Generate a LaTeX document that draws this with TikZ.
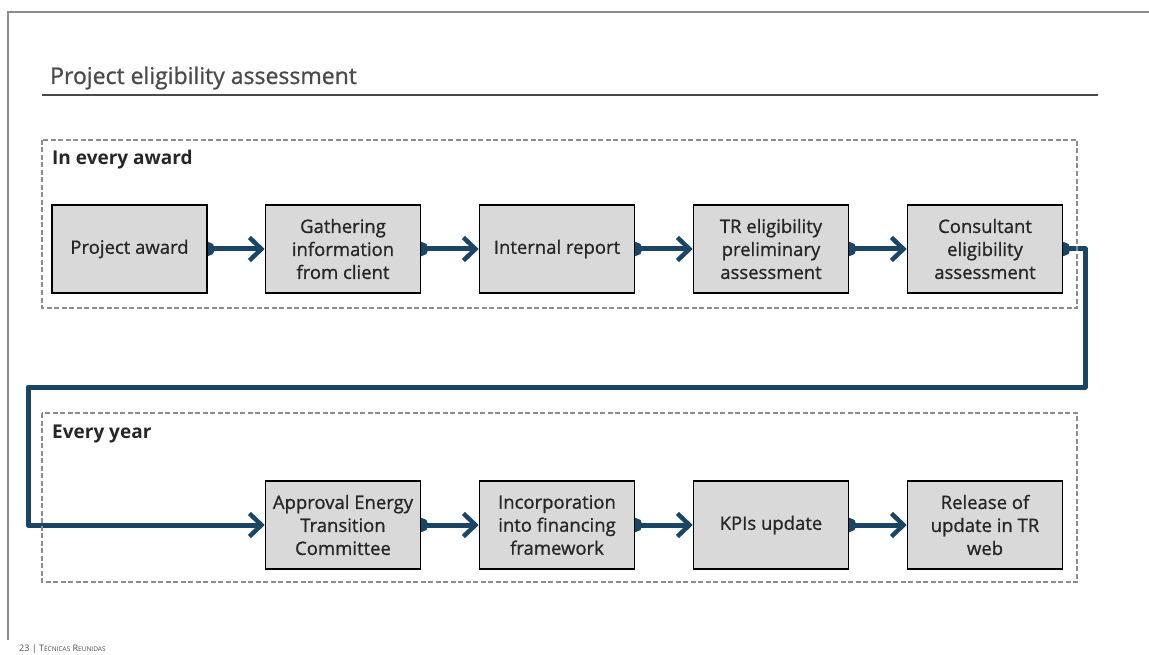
\documentclass[tikz,border=0pt]{standalone}
\usepackage{fontspec}
\setmainfont{Open Sans}
\newfontfamily\medfont{Open Sans}[FakeBold=0.9]
\usetikzlibrary{arrows.meta,backgrounds}
\definecolor{flownavy}{HTML}{1B4565}
\definecolor{boxgray}{HTML}{D9D9D9}
\definecolor{framegray}{HTML}{8C8C8C}
\definecolor{titlegray}{HTML}{4A4A4A}
\tikzset{
stepbox/.style={rectangle, draw=black, line width=1.6pt, fill=boxgray, minimum width=155pt, minimum height=88pt, align=center, inner sep=2pt, text=black!85, font=\medfont\fontsize{18.5}{23}\selectfont},
flow/.style={draw=flownavy, line width=5pt, line join=round, {Circle[length=14pt]}-{Straight Barb[length=12pt, width=23pt, line width=4.5pt]}, shorten <=-7pt},
frame/.style={draw=framegray, line width=1.3pt, dash pattern=on 5pt off 2.5pt},
framelabel/.style={anchor=west, inner sep=0pt, font=\fontsize{19}{22}\selectfont\bfseries, text=black!85}
}
\begin{document}
\begin{tikzpicture}[x=1pt, y=-1pt]
\useasboundingbox (0,0) rectangle (1149,655);
\draw[framegray, line width=1.5pt] (8,640) -- (8,12) -- (1149,12);
\node[anchor=west, inner sep=0pt, font=\medfont\fontsize{23}{26}\selectfont, text=titlegray] (title) at (50,78) {Project eligibility assessment};
\draw[titlegray, line width=2pt] (42,95) -- (1098,95);

\draw[frame] (42,140) rectangle (1077,308);
\node[framelabel] (award) at (52,160) {In every award};
\draw[frame] (42,413) rectangle (1077,582);
\node[framelabel] (year) at (52,434) {Every year};

\node[stepbox] (b1) at (129.5,249) {Project award};
\node[stepbox] (b2) at (343,249) {Gathering\\information\\from client};
\node[stepbox] (b3) at (557,249) {Internal report};
\node[stepbox] (b4) at (771,249) {TR eligibility\\preliminary\\assessment};
\node[stepbox] (b5) at (985,249) {Consultant\\eligibility\\assessment};

\node[stepbox] (b6) at (343,525) {Approval Energy\\Transition\\Committee};
\node[stepbox] (b7) at (557,525) {Incorporation\\into financing\\framework};
\node[stepbox] (b8) at (771,525) {KPIs update};
\node[stepbox] (b9) at (985,525) {Release of\\update in TR\\web};

\coordinate (turnR) at (1085,387);
\coordinate (turnL) at (28,387);

\begin{pgfonlayer}{background}
\draw[flow] (b1.east) -- (b2.west);
\draw[flow] (b2.east) -- (b3.west);
\draw[flow] (b3.east) -- (b4.west);
\draw[flow] (b4.east) -- (b5.west);
\draw[flow] (b5.east) -| (turnR) -- (turnL) |- (b6.west);
\draw[flow] (b6.east) -- (b7.west);
\draw[flow] (b7.east) -- (b8.west);
\draw[flow] (b8.east) -- (b9.west);
\end{pgfonlayer}

\node[anchor=base west, inner sep=0pt, font=\fontsize{9}{10}\selectfont, text=titlegray] (footer) at (19,651) {23 | T{\fontsize{6.5}{7}\selectfont ÉCNICAS} R{\fontsize{6.5}{7}\selectfont EUNIDAS}};
\end{tikzpicture}
\end{document}
